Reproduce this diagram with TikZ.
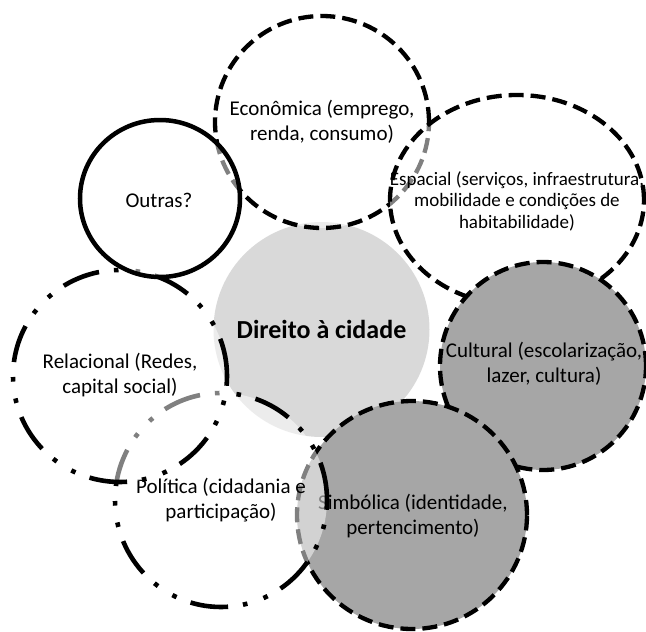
\documentclass[tikz,border=0pt]{standalone}
\usepackage{fontspec}
\setmainfont{Carlito}
\usetikzlibrary{shapes.geometric}
\definecolor{lightg}{HTML}{D9D9D9}
\definecolor{darkg}{HTML}{A6A6A6}
\begin{document}
\begin{tikzpicture}[x=1pt,y=-1pt,
  ring/.style={ellipse, inner sep=0pt, outer sep=0pt},
  dashring/.style={ring, draw, line width=4.3pt, dash pattern=on 15pt off 7pt},
  dotring/.style={ring, draw, line width=4.6pt, dash pattern=on 38pt off 15pt on 4.6pt off 17pt on 4.6pt off 15pt},
  solidring/.style={ring, draw, line width=4.5pt},
  veil/.style={fill=white, fill opacity=0.5},
  lbl/.style={align=center, inner sep=0pt, font=\fontsize{21}{25}\selectfont},
  smalllbl/.style={align=center, inner sep=0pt, font=\fontsize{19}{21.5}\selectfont},
  mainlbl/.style={align=center, inner sep=0pt, font=\bfseries\fontsize{26}{30}\selectfont},
]
\useasboundingbox (0,0) rectangle (646,632);
% central circle
\node[ring, fill=lightg, minimum width=216pt, minimum height=215pt] (dir) at (321.5,329.5) {};
\node[mainlbl] (dirt) at (dir) {Direito à cidade};
% economica
\node[dashring, veil, minimum width=214pt, minimum height=212pt] (eco) at (322,122) {};
\node[lbl] (ecot) at (eco) {Econômica (emprego,\\renda, consumo)};
% espacial
\node[dashring, veil, minimum width=254pt, minimum height=210pt] (esp) at (517,200) {};
\node[smalllbl] (espt) at (517,201) {Espacial (serviços, infraestrutura,\\mobilidade e condições de\\habitabilidade)};
% cultural
\node[dashring, fill=darkg, minimum width=206pt, minimum height=208pt] (cul) at (543,366) {};
\node[lbl] (cult) at (544,364) {Cultural (escolarização,\\lazer, cultura)};
% simbolica
\node[dashring, fill=darkg, minimum width=230pt, minimum height=228pt] (sim) at (412,515) {};
\node[lbl] (simt) at (413,516) {Simbólica (identidade,\\pertencimento)};
% politica
\node[dotring, veil, minimum width=212pt, minimum height=214pt] (pol) at (221,500) {};
\node[lbl] (polt) at (221,500) {Política (cidadania e\\participação)};
% relacional
\node[dotring, veil, minimum width=214pt, minimum height=212pt] (rel) at (120,376) {};
\node[lbl] (relt) at (120,375) {Relacional (Redes,\\capital social)};
% outras
\node[solidring, veil, minimum width=160pt, minimum height=157pt] (out) at (160,198.5) {};
\node[lbl] (outt) at (159,200) {Outras?};
\end{tikzpicture}
\end{document}
